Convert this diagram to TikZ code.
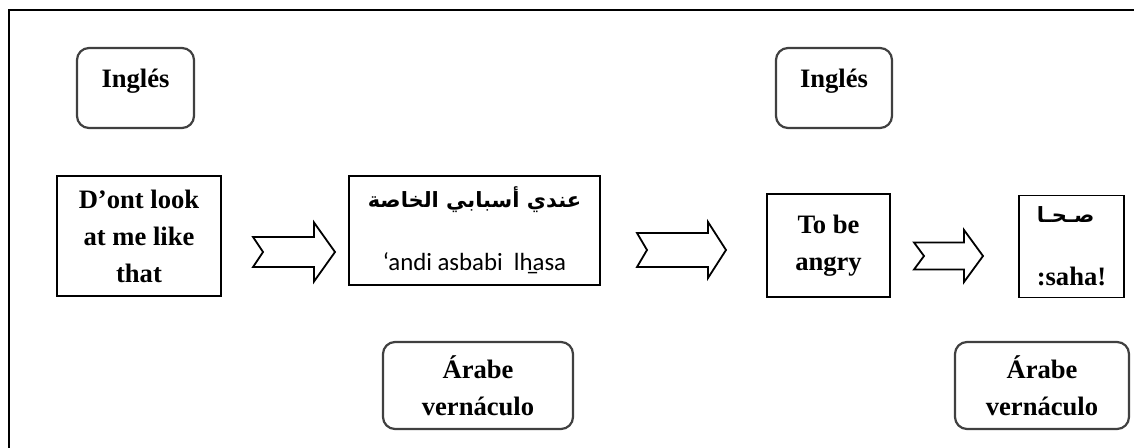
\documentclass[tikz,border=0pt]{standalone}
\usepackage{fontspec}
\setmainfont{Liberation Serif}
\newfontfamily\arabicfont[Script=Arabic]{DejaVu Sans}
\newfontfamily\translitfont{Carlito}
\TeXXeTstate=1

\tikzset{
  pics/fatarrow/.style n args={4}{code={
    \draw[arrowline] (0,-#3) -- (#2,-#3) -- (#2,-#4) -- (#1,0) -- (#2,#4)
      -- (#2,#3) -- (0,#3) -- (10,0) -- cycle;
  }}
}

\begin{document}
\begin{tikzpicture}[x=0.5pt,y=-0.5pt,
    box/.style={draw,line width=0.9pt,inner sep=2pt,align=center,
      font=\bfseries\fontsize{13.3}{18.5}\selectfont},
    lang/.style={box,rounded corners=6pt,draw=black!75,line width=1.1pt},
    arrowline/.style={line width=0.9pt,line join=miter}]

    \useasboundingbox (0,0) rectangle (1134,448);
    \clip (0,0) rectangle (1134,448);
    \draw[line width=1.3pt] (9,480) |- (1160,10);

    % language labels
    \node[lang, minimum width=58.5pt, minimum height=40pt, text depth=10pt] (ing1) at (135.5,88) {Inglés};
    \node[lang, minimum width=58pt, minimum height=40pt, text depth=10pt] (ing2) at (834,88) {Inglés};
    \node[lang, minimum width=95pt, minimum height=43.5pt] (ver1) at (478,385.5) {Árabe\\vernáculo};
    \node[lang, minimum width=87pt, minimum height=43.5pt] (ver2) at (1042,385.5) {Árabe\\vernáculo};

    % expressions
    \node[box, minimum width=82pt, minimum height=60pt] (dont) at (139,236) {D’ont look\\at me like\\that};
    \node[box, minimum width=125.5pt, minimum height=54.5pt] (arab) at (474.5,230.5)
      {{\arabicfont\fontsize{10.5}{13}\selectfont\beginR عندي أسبابي الخاصة\endR}\\[13pt]
       {\translitfont\mdseries\fontsize{12.4}{15}\selectfont ‘andi asbabi\ \ l\b{h}asa}};
    \node[box, minimum width=61.5pt, minimum height=51.5pt] (angry) at (828.5,245.5) {To be\\angry};
    \node[box, minimum width=52.5pt, minimum height=51pt, align=left] (saha) at (1071.5,246.5)
      {{\arabicfont\fontsize{10.5}{13}\selectfont\beginR صـحـا\endR}\\[13pt]:saha!};

    % block arrows
    \pic at (253,252) {fatarrow={82}{61}{15}{29.5}};
    \pic at (637,250) {fatarrow={89}{71}{17}{28}};
    \pic at (914,256) {fatarrow={69}{50}{13.5}{26}};
\end{tikzpicture}
\end{document}
